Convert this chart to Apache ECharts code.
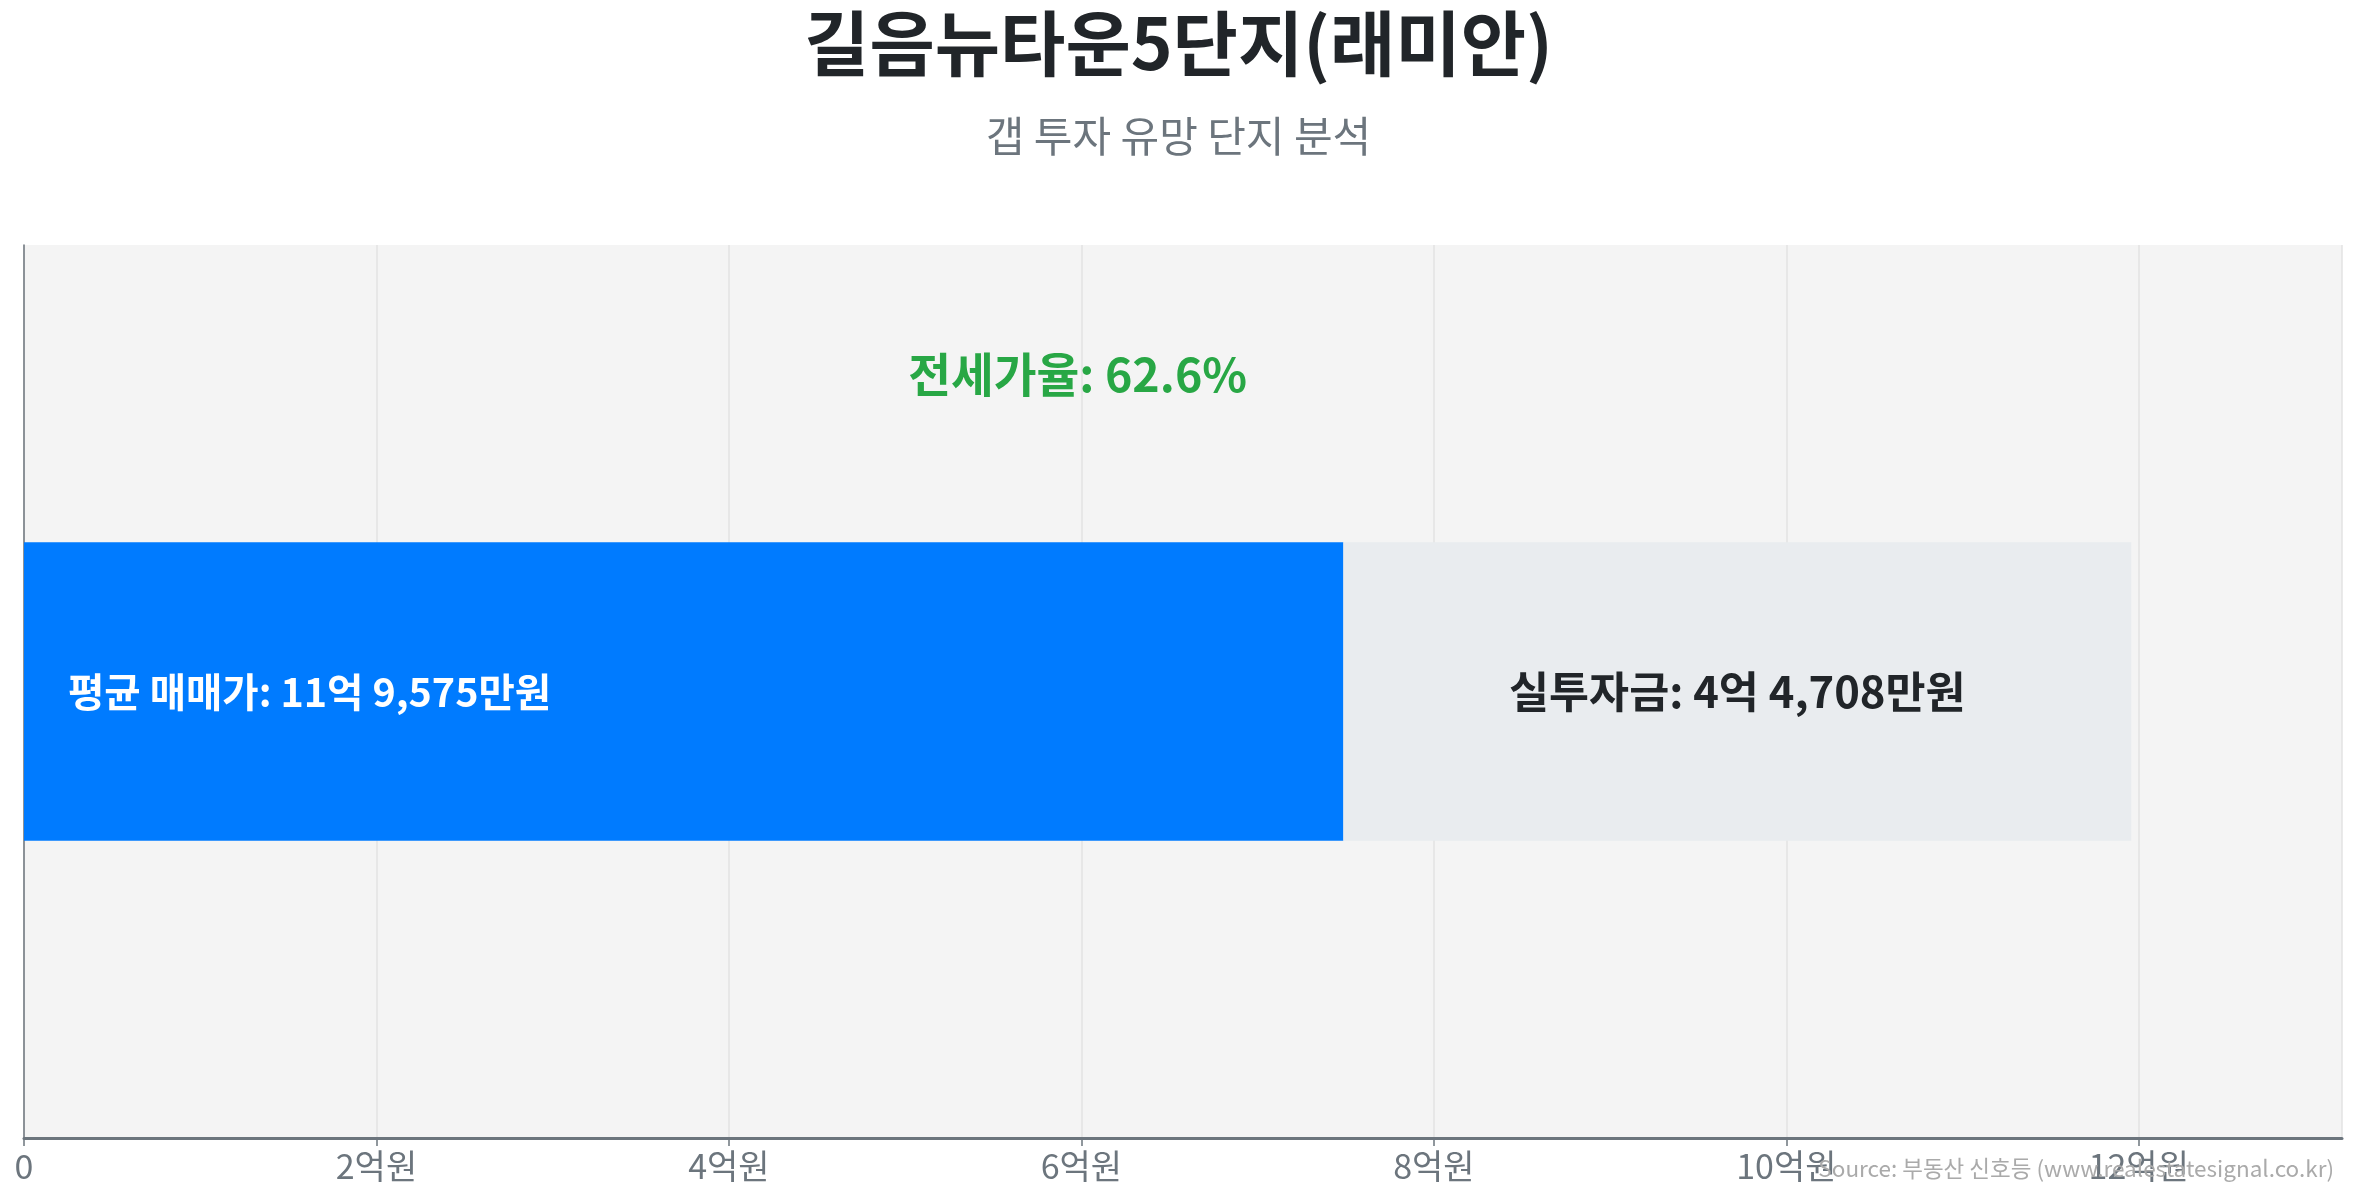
<!DOCTYPE html>
<html>
<head>
<meta charset="utf-8">
<script src="https://cdn.jsdelivr.net/npm/echarts@6/dist/echarts.min.js"></script>
<style>
html,body{margin:0;padding:0;background:#fff;}
#chart{width:2357px;height:1201px;}
</style>
</head>
<body>
<div id="chart"></div>
<script>
// ---- data (만원 단위) ----
const categories = ['길음뉴타운5단지(래미안)'];
const salePrice = [119575];      // 평균 매매가
const gapInvestment = [44708];   // 실투자금
const jeonsePart = [74867];      // 전세금 (매매가 - 실투자금)
const jeonseRatio = [62.6];      // 전세가율 %
const tickStep = 2;              // 억 단위 눈금 간격

const titleText = '길음뉴타운5단지(래미안)';
const subtitleText = '갭 투자 유망 단지 분석';
const sourceText = 'Source: 부동산 신호등 (www.realestatesignal.co.kr)';

function fmtMan(v) {
  const eok = Math.floor(v / 10000);
  const man = v % 10000;
  let s = '';
  if (eok > 0) s += eok + '억';
  if (man > 0) s += (s ? ' ' : '') + man.toLocaleString('en-US') + '만원';
  else s += '원';
  return s;
}

const toEok = arr => arr.map(v => v / 10000);
const maxEok = salePrice[0] / 10000 * 1.1;

const FONT = "'Noto Sans CJK KR', 'Noto Sans', sans-serif";
const chart = echarts.init(document.getElementById('chart'));
chart.setOption({
  backgroundColor: '#ffffff',
  textStyle: { fontFamily: FONT },
  title: [
    { text: titleText, left: 'center', top: 3,
      textStyle: { fontSize: 71, fontWeight: 'bold', color: '#212529', fontFamily: FONT } },
    { text: subtitleText, left: 'center', top: 110,
      textStyle: { fontSize: 42, fontWeight: 'normal', color: '#6c757d', fontFamily: FONT } },
    { text: sourceText, right: 18, top: 1152,
      textStyle: { fontSize: 22.5, fontWeight: 'normal', color: '#aaaaaa', fontFamily: FONT } }
  ],
  grid: { left: 24, right: 15, top: 245, bottom: 63, show: true,
          backgroundColor: '#f4f4f4', borderWidth: 0 },
  xAxis: {
    type: 'value', min: 0, max: maxEok, interval: tickStep,
    axisLine: { show: true, lineStyle: { color: '#6c757d', width: 3 } },
    axisTick: { show: true, length: 8, lineStyle: { color: '#6c757d', width: 1.5 } },
    axisLabel: { color: '#6c757d', fontSize: 34, margin: 11, showMaxLabel: false,
      formatter: v => v === 0 ? '0' : v + '억원' },
    splitLine: { show: true, lineStyle: { color: '#e3e3e3', width: 1.5 } }
  },
  yAxis: {
    type: 'category', data: categories,
    axisLine: { show: true, lineStyle: { color: '#6c757d', width: 1.5 } },
    axisTick: { show: false }, axisLabel: { show: false }, splitLine: { show: false }
  },
  series: [
    {
      name: '전세금', type: 'bar', stack: 'total', barWidth: '33.4%',
      data: toEok(jeonsePart),
      itemStyle: { color: '#007bff' },
      label: { show: true, position: 'insideLeft', distance: 44,
        color: '#ffffff', fontSize: 39.5, fontWeight: 'bold', fontFamily: FONT,
        formatter: () => '평균 매매가: ' + fmtMan(salePrice[0]) }
    },
    {
      name: '실투자금', type: 'bar', stack: 'total', barWidth: '33.4%',
      data: toEok(gapInvestment),
      itemStyle: { color: '#e9ecef' },
      label: { show: true, position: 'inside',
        color: '#212529', fontSize: 43.5, fontWeight: 'bold', fontFamily: FONT,
        formatter: () => '실투자금: ' + fmtMan(gapInvestment[0]) },
      markPoint: {
        symbol: 'circle', symbolSize: 0, silent: true,
        data: [{ coord: [salePrice[0] / 10000 / 2, categories[0]], value: jeonseRatio[0] }],
        label: { show: true, position: 'inside', offset: [0, -317],
          color: '#28a745', fontSize: 46.5, fontWeight: 'bold', fontFamily: FONT,
          formatter: p => '전세가율: ' + p.value + '%' }
      }
    }
  ]
});
</script>
</body>
</html>
